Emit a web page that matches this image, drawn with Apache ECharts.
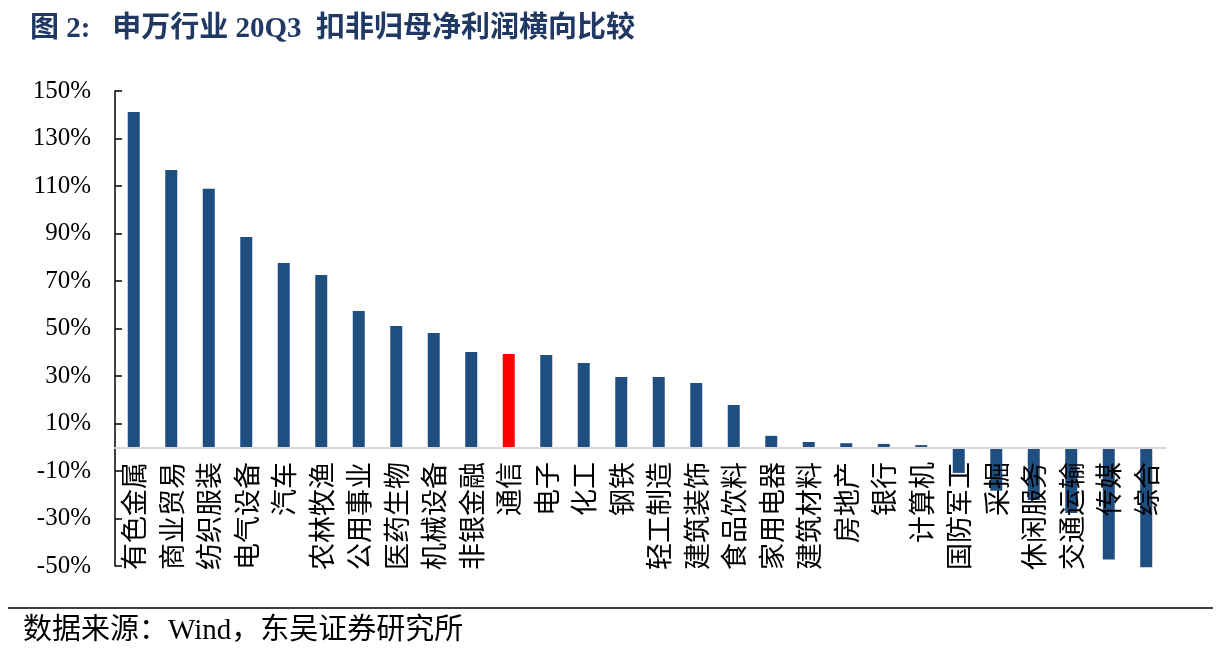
<!DOCTYPE html>
<html>
<head>
<meta charset="utf-8">
<script src="https://cdn.jsdelivr.net/npm/echarts@6/dist/echarts.min.js"></script>
<style>
html,body{margin:0;padding:0;background:#fff;}
#chart{width:1221px;height:664px;}
</style>
</head>
<body>
<div id="chart"></div>
<script>
const categories = ['有色金属','商业贸易','纺织服装','电气设备','汽车','农林牧渔','公用事业','医药生物','机械设备','非银金融','通信','电子','化工','钢铁','轻工制造','建筑装饰','食品饮料','家用电器','建筑材料','房地产','银行','计算机','国防军工','采掘','休闲服务','交通运输','传媒','综合'];
const values = [141.2,116.7,108.8,88.5,77.6,72.5,57.4,51.1,48.1,40.1,39.3,38.8,35.5,29.6,29.6,27.1,17.8,4.8,2.2,1.7,1.4,0.9,-10.8,-18.3,-22.2,-27.7,-47.3,-50.5];
const highlight = '通信';
const yTicks = [-50,-30,-10,10,30,50,70,90,110,130,150];
const titleText = '图 2:   申万行业 20Q3  扣非归母净利润横向比较';
const sourceText = '数据来源：Wind，东吴证券研究所';

const chart = echarts.init(document.getElementById('chart'));
chart.setOption({
  backgroundColor: '#fff',
  animation: false,
  title: {
    text: titleText,
    left: 25, top: 10,
    textStyle: {color: '#1F3864', fontSize: 29, fontWeight: 'bold', fontFamily: "'Liberation Serif','Noto Sans CJK SC',serif"}
  },
  graphic: [
    {type: 'line', shape: {x1: 8, y1: 608, x2: 1213, y2: 608}, style: {stroke: '#000', lineWidth: 1.5}},
    {type: 'text', left: 23, top: 617, style: {text: sourceText, fill: '#000', fontSize: 29, fontFamily: "'Liberation Serif','Noto Sans CJK SC',serif"}}
  ],
  grid: {left: 115, right: 56, top: 91, bottom: 98, containLabel: false, outerBoundsMode: 'none'},
  xAxis: {
    type: 'category',
    data: categories,
    z: 5,
    axisLine: {onZero: true, lineStyle: {color: '#d9d9d9', width: 2}},
    axisTick: {show: false},
    axisLabel: {
      rotate: 90, interval: 0, margin: -104,
      color: '#000', fontSize: 27,
      fontFamily: "'Noto Sans CJK SC',sans-serif"
    }
  },
  yAxis: {
    type: 'value',
    min: yTicks[0], max: yTicks[yTicks.length-1], interval: 20,
    axisLine: {show: true, lineStyle: {color: '#000', width: 1.5}},
    axisTick: {show: true, inside: true, length: 7, lineStyle: {color: '#000', width: 1.5}},
    splitLine: {show: false},
    axisLabel: {
      margin: 24, color: '#000', fontSize: 25,
      fontFamily: "'Liberation Serif','Times New Roman',serif",
      formatter: v => v + '%'
    }
  },
  series: [{
    type: 'bar',
    clip: false,
    barWidth: 12,
    z: 1,
    data: values.map((v, i) => ({
      value: v,
      itemStyle: {color: categories[i] === highlight ? '#FF0000' : '#1F4E80'}
    }))
  }]
});
</script>
</body>
</html>
